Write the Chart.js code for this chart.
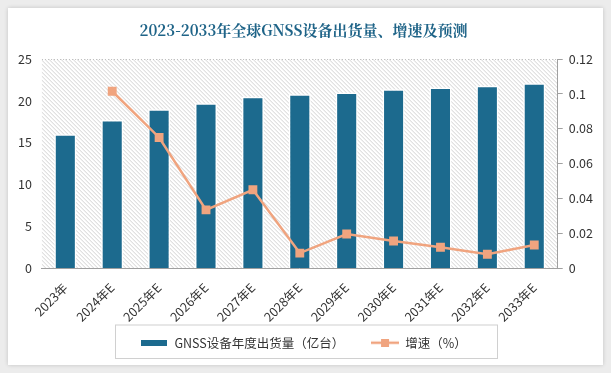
<!DOCTYPE html>
<html>
<head>
<meta charset="utf-8">
<script src="https://cdn.jsdelivr.net/npm/chart.js@4"></script>
<style>
    body {
        margin: 0;
        width: 611px;
        height: 373px;
        background: #ececec;
        overflow: hidden;
    }
    #card {
        position: absolute;
        left: 8px;
        top: 8px;
        width: 595px;
        height: 357px;
        background: #fff;
        box-shadow: 0 0 4px rgba(0, 0, 0, 0.18);
    }
</style>
</head>
<body>
<div id="card"><canvas id="chart1" width="595" height="357"></canvas></div>
<script>
const years = ['2023年', '2024年E', '2025年E', '2026年E', '2027年E', '2028年E', '2029年E', '2030年E', '2031年E', '2032年E', '2033年E'];
const shipments = [16.0, 17.7, 19.0, 19.7, 20.5, 20.8, 21.0, 21.4, 21.6, 21.8, 22.1];
const growth = [null, 0.1015, 0.075, 0.0335, 0.045, 0.0087, 0.0196, 0.0156, 0.012, 0.008, 0.0133];
const leftTicks = [0, 5, 10, 15, 20, 25];
const rightTicks = [0, 0.02, 0.04, 0.06, 0.08, 0.1, 0.12];

const barColor = '#1c6a8e';
const lineColor = '#f0a47f';
const font = '"Noto Sans CJK SC", "Open Sans", sans-serif';

// legend icons
function barIcon() {
    var c = document.createElement('canvas');
    c.width = 26; c.height = 6;
    var ctx = c.getContext('2d');
    ctx.fillStyle = barColor;
    ctx.fillRect(0, 0, 26, 6);
    return c;
}
function lineIcon() {
    var c = document.createElement('canvas');
    c.width = 28; c.height = 8;
    var ctx = c.getContext('2d');
    ctx.strokeStyle = lineColor;
    ctx.lineWidth = 2.5;
    ctx.beginPath();
    ctx.moveTo(0, 4);
    ctx.lineTo(28, 4);
    ctx.stroke();
    ctx.fillStyle = lineColor;
    ctx.fillRect(10, 0, 8, 8);
    return c;
}

// diagonal hatch behind the plot area + legend frame
const hatch = {
    id: 'hatch',
    beforeDraw(chart) {
        const a = chart.chartArea, ctx = chart.ctx;
        ctx.save();
        ctx.beginPath();
        ctx.rect(a.left, a.top, a.right - a.left, a.bottom - a.top);
        ctx.clip();
        ctx.strokeStyle = '#d2d2d2';
        ctx.lineWidth = 1;
        const h = a.bottom - a.top;
        for (let x = a.left - h; x < a.right; x += 4) {
            ctx.beginPath();
            ctx.moveTo(x, a.top);
            ctx.lineTo(x + h, a.bottom);
            ctx.stroke();
        }
        ctx.restore();
    },
    afterDraw(chart) {
        const lg = chart.legend, ctx = chart.ctx;
        ctx.save();
        ctx.strokeStyle = '#d0d0d0';
        ctx.lineWidth = 1;
        ctx.strokeRect(107.5, lg.top - 3.5, 382, lg.height + 3);
        ctx.restore();
    }
};

const data = {
    labels: years,
    datasets: [{
        type: 'line',
        label: '增速（%）',
        data: growth,
        yAxisID: 'y1',
        borderColor: lineColor,
        backgroundColor: lineColor,
        borderWidth: 2.5,
        pointStyle: 'rect',
        pointRadius: 4.5,
        pointHoverRadius: 4.5,
        tension: 0,
        order: 0
    },
    {
        type: 'bar',
        label: 'GNSS设备年度出货量（亿台）',
        data: shipments,
        yAxisID: 'y',
        backgroundColor: barColor,
        borderColor: '#ffffff',
        borderWidth: 1.5,
        categoryPercentage: 1,
        barPercentage: 0.47,
        order: 1
    }]
};

const config = {
    data: data,
    plugins: [hatch],
    options: {
        responsive: false,
        animation: false,
        layout: { padding: { left: 0, right: 4, top: 0, bottom: 6 } },
        plugins: {
            title: {
                display: true,
                text: '2023-2033年全球GNSS设备出货量、增速及预测',
                color: '#1f6488',
                font: { family: '"Noto Serif CJK SC", "Noto Sans CJK SC", serif', size: 15, weight: 'bold' },
                padding: { top: 13, bottom: 20 }
            },
            legend: {
                position: 'bottom',
                labels: {
                    color: '#333',
                    font: { family: font, size: 12.5 },
                    usePointStyle: true,
                    pointStyleWidth: 28,
                    padding: 8,
                    generateLabels(chart) {
                        // trailing ideographic spaces widen the gap between the two entries
                        return [
                            { text: 'GNSS设备年度出货量（亿台）\u3000\u3000', pointStyle: barIcon(), datasetIndex: 1, fontColor: '#333', lineWidth: 0 },
                            { text: '增速（%）', pointStyle: lineIcon(), datasetIndex: 0, fontColor: '#333', lineWidth: 0 }
                        ];
                    }
                }
            },
            tooltip: { enabled: false }
        },
        scales: {
            x: {
                grid: { display: false },
                border: { color: '#a0a0a0' },
                ticks: {
                    color: '#333',
                    font: { family: font, size: 12.5 },
                    minRotation: 45,
                    maxRotation: 45,
                    padding: 4
                }
            },
            y: {
                position: 'left',
                min: 0,
                max: 25,
                afterBuildTicks(axis) { axis.ticks = leftTicks.map(v => ({ value: v })); },
                grid: { color: '#c0c0c0', drawTicks: false, lineWidth: (c) => c.tick.value === 25 ? 1 : 0 },
                border: { display: false, dash: [1, 2] },
                ticks: { color: '#333', font: { family: font, size: 12.5 }, padding: 10 }
            },
            y1: {
                position: 'right',
                min: 0,
                max: 0.12,
                afterBuildTicks(axis) { axis.ticks = rightTicks.map(v => ({ value: v })); },
                grid: { drawOnChartArea: false, drawTicks: true, tickLength: 5, color: '#a0a0a0' },
                border: { display: true, color: '#a0a0a0' },
                ticks: {
                    color: '#333',
                    font: { family: font, size: 12.5 },
                    padding: 6,
                    callback: (v) => String(+v.toFixed(2))
                }
            }
        }
    }
};

const myChart = new Chart(document.getElementById('chart1'), config);
</script>
</body>
</html>
